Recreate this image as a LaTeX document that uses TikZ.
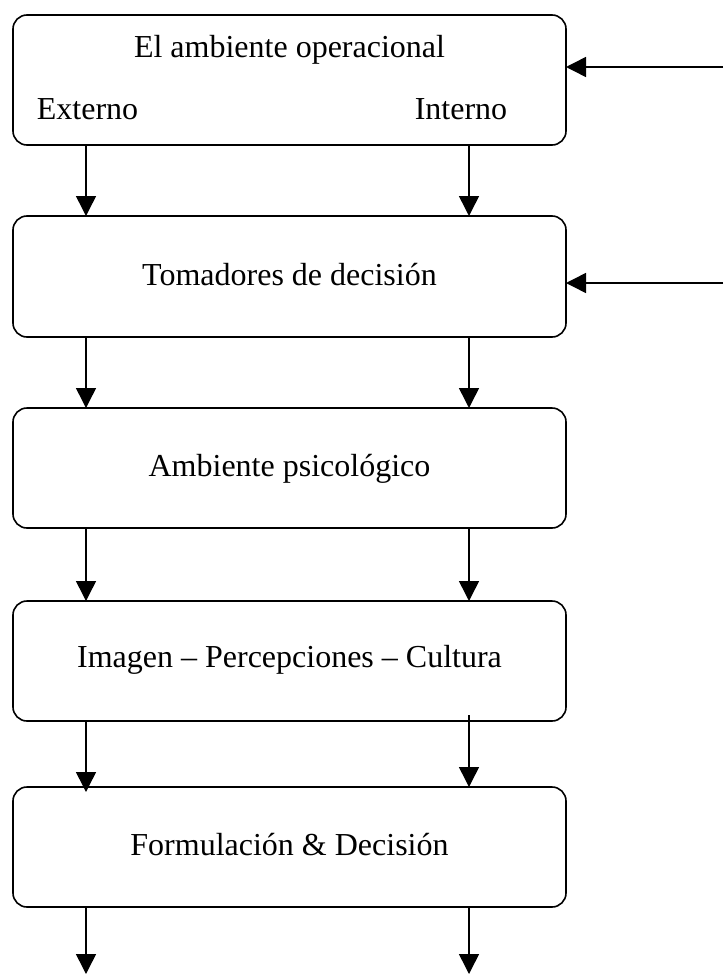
\documentclass[tikz,border=0pt]{standalone}
\usepackage{fontspec}
\setmainfont{Liberation Serif}
\usetikzlibrary{arrows.meta,calc}
\begin{document}
\begin{tikzpicture}[x=1pt,y=-1pt,
  box/.style={draw, line width=1.6pt, rounded corners=14pt, minimum width=553pt,
     inner sep=0pt, outer sep=0pt, font=\fontsize{32}{38}\selectfont, align=center},
  lbl/.style={inner sep=0pt, anchor=base, font=\fontsize{32}{38}\selectfont},
  arr/.style={line width=1.5pt, -{Triangle[length=20pt,width=20pt]}}]
\useasboundingbox (0,0) rectangle (723,974);
\coordinate (xL) at (86,0);
\coordinate (xR) at (469,0);
\coordinate (in1) at (723,67);
\coordinate (in2) at (723,283);
\coordinate (out1) at (86,974);
\coordinate (out2) at (469,974);

\node[box, minimum height=130pt] (b1) at (289.5,80) {};
\node[lbl] (t1) at (289.5,57) {El ambiente operacional};
\node[lbl] (ext) at (87.5,119) {Externo};
\node[lbl] (int) at (461,119) {Interno};

\node[box, minimum height=121pt, text height=17pt, text depth=0pt] (b2) at (289.5,276.5) {Tomadores de decisión};
\node[box, minimum height=120pt, text height=16pt, text depth=0pt] (b3) at (289.5,468) {Ambiente psicológico};
\node[box, minimum height=120pt, text height=12pt, text depth=0pt] (b4) at (289.5,661) {Imagen – Percepciones – Cultura};
\node[box, minimum height=120pt, text height=16pt, text depth=0pt] (b5) at (289.5,847) {Formulación \& Decisión};

\draw[arr] (in1) -- (in1 -| b1.east);
\draw[arr] (in2) -- (in2 -| b2.east);

\draw[arr] (b1.south -| xL) -- (b2.north -| xL);
\draw[arr] (b1.south -| xR) -- (b2.north -| xR);
\draw[arr] (b2.south -| xL) -- (b3.north -| xL);
\draw[arr] (b2.south -| xR) -- (b3.north -| xR);
\draw[arr] (b3.south -| xL) -- (b4.north -| xL);
\draw[arr] (b3.south -| xR) -- (b4.north -| xR);
\draw[arr] (b4.south -| xL) -- ([yshift=-5pt]b5.north -| xL);
\draw[arr] ([yshift=6pt]b4.south -| xR) -- (b5.north -| xR);
\draw[arr] (b5.south -| xL) -- (out1);
\draw[arr] (b5.south -| xR) -- (out2);
\end{tikzpicture}
\end{document}
